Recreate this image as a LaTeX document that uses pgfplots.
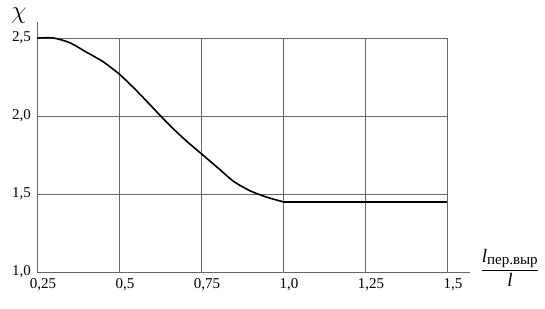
\documentclass[border=0pt]{standalone}
\usepackage{pgfplots}
\pgfplotsset{compat=1.18}
\usepackage{amsmath}
\usepackage{fontspec}
\setmainfont{Liberation Serif}
\begin{document}
\fontsize{15}{17}\selectfont
\begin{tikzpicture}[x=1pt,y=1pt]
\useasboundingbox (-37,-36) rectangle (508,272);
\begin{axis}[
  at={(0,0)}, anchor=south west,
  scale only axis, width=410pt, height=234pt,
  xmin=0.25, xmax=1.5, ymin=1.0, ymax=2.5,
  axis lines=left,
  axis line style={gray!80!black, line width=0.6pt, -},
  clip=false,
  xtick={0.25,0.5,0.75,1.0,1.25,1.5},
  xticklabels={{0,25},{0,5},{0,75},{1,0},{1,25},{1,5}},
  ytick={1.0,1.5,2.0,2.5},
  yticklabels={{1,0},{1,5},{2,0},{2,5}},
  major tick length=0pt,
  grid=major,
  major grid style={gray!80!black, line width=0.6pt},
  xticklabel style={font=\fontsize{15}{17}\selectfont, yshift=-1pt, xshift=6pt},
  yticklabel style={font=\fontsize{15}{17}\selectfont, xshift=-1pt},
  /pgf/number format/assume math mode=true,
]
\addplot[black, line width=1.6pt, smooth, tension=0.4] coordinates {
 (0.25,2.5) (0.30,2.50) (0.35,2.47) (0.40,2.41) (0.45,2.35) (0.50,2.27)
 (0.55,2.17) (0.60,2.06) (0.65,1.95) (0.70,1.85) (0.75,1.76) (0.80,1.67)
 (0.85,1.58) (0.90,1.52) (0.95,1.48) (1.0,1.45)
};
\addplot[black, line width=1.6pt] coordinates {(1.0,1.45) (1.5,1.45)};
\draw[gray!80!black, line width=0.6pt] (axis cs:0.25,2.5) -- (axis cs:0.25,2.6);
\draw[gray!80!black, line width=0.6pt] (axis cs:1.5,1.0) -- (axis cs:1.57,1.0);
\end{axis}
\node at (-18,256) {\fontsize{28}{30}\selectfont$\chi$};
\node at (473,4) {\fontsize{19}{21}\selectfont$\dfrac{\textit{l}_{\text{\fontsize{15}{17}\selectfont пер.выр}}}{\textit{l}}$};
\end{tikzpicture}
\end{document}
